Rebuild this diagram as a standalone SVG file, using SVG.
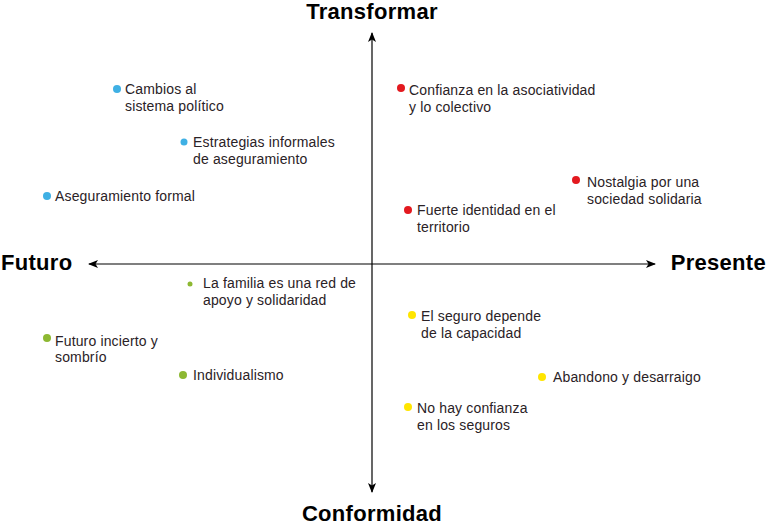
<svg xmlns="http://www.w3.org/2000/svg" width="767" height="525" viewBox="0 0 767 525">
<defs>
<marker id="arr" markerWidth="10" markerHeight="8" refX="9" refY="4" orient="auto" markerUnits="userSpaceOnUse">
<path d="M0,0 L10,4 L0,8 L2.5,4 Z" fill="#000"/>
</marker>
</defs>
<style>
.t{font-family:"Liberation Sans",Arial,sans-serif;font-size:14px;letter-spacing:0.15px;fill:#2a2226}
.h{font-family:"Liberation Sans",Arial,sans-serif;font-size:22px;letter-spacing:0.3px;font-weight:bold;fill:#000}
.ax{stroke:#000;stroke-width:1.2;fill:none}
.b{fill:#3fb0e4}.r{fill:#e3191f}.g{fill:#8db832}.y{fill:#ffe500}
</style>
<rect width="767" height="525" fill="#fff"/>
<g id="connectors">
<line class="ax" x1="372" y1="264" x2="372" y2="33" marker-end="url(#arr)"/>
<line class="ax" x1="372" y1="264" x2="372" y2="492" marker-end="url(#arr)"/>
<line class="ax" x1="372" y1="264" x2="89" y2="264" marker-end="url(#arr)"/>
<line class="ax" x1="372" y1="264" x2="655" y2="264" marker-end="url(#arr)"/>
</g>
<g id="axis-labels">
<text class="h" x="372" y="19" text-anchor="middle">Transformar</text>
<text class="h" x="372" y="521" text-anchor="middle">Conformidad</text>
<text class="h" x="1" y="270">Futuro</text>
<text class="h" x="766" y="270" text-anchor="end">Presente</text>
</g>
<g id="n1"><circle class="b" cx="117" cy="89" r="4"/><text class="t" x="125" y="94">Cambios al</text><text class="t" x="125" y="111">sistema político</text></g>
<g id="n2"><circle class="b" cx="184" cy="142" r="3.5"/><text class="t" x="193" y="147">Estrategias informales</text><text class="t" x="193" y="164">de aseguramiento</text></g>
<g id="n3"><circle class="b" cx="47" cy="196" r="4"/><text class="t" x="55" y="201">Aseguramiento formal</text></g>
<g id="n4"><circle class="r" cx="401" cy="88" r="4"/><text class="t" x="409" y="95">Confianza en la asociatividad</text><text class="t" x="409" y="112">y lo colectivo</text></g>
<g id="n5"><circle class="r" cx="576" cy="180" r="4"/><text class="t" x="587" y="187">Nostalgia por una</text><text class="t" x="587" y="204">sociedad solidaria</text></g>
<g id="n6"><circle class="r" cx="408" cy="210" r="4"/><text class="t" x="417" y="215">Fuerte identidad en el</text><text class="t" x="417" y="232">territorio</text></g>
<g id="n7"><circle class="g" cx="190" cy="284" r="2.5"/><text class="t" x="203" y="288">La familia es una red de</text><text class="t" x="203" y="305">apoyo y solidaridad</text></g>
<g id="n8"><circle class="g" cx="47" cy="338" r="4"/><text class="t" x="55" y="346">Futuro incierto y</text><text class="t" x="55" y="362">sombrío</text></g>
<g id="n9"><circle class="g" cx="183" cy="375" r="4"/><text class="t" x="193" y="380">Individualismo</text></g>
<g id="n10"><circle class="y" cx="412" cy="315" r="4"/><text class="t" x="421" y="321">El seguro depende</text><text class="t" x="421" y="338">de la capacidad</text></g>
<g id="n11"><circle class="y" cx="542" cy="377" r="4"/><text class="t" x="553" y="382">Abandono y desarraigo</text></g>
<g id="n12"><circle class="y" cx="408" cy="407" r="4"/><text class="t" x="417" y="413">No hay confianza</text><text class="t" x="417" y="430">en los seguros</text></g>
</svg>
